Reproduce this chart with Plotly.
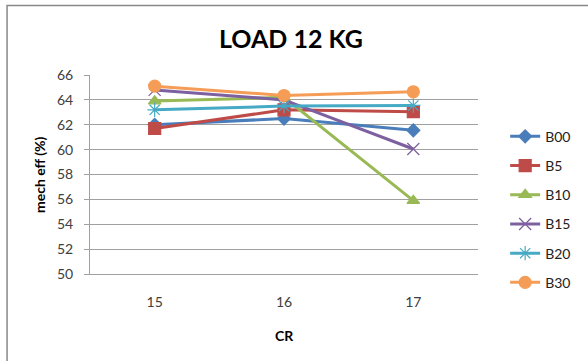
import plotly.graph_objects as go

categories = ["15", "16", "17"]
series_names = ["B00", "B5", "B10", "B15", "B20", "B30"]
b00 = [62.0, 62.5, 61.55]
b5 = [61.7, 63.2, 63.05]
b10 = [63.9, 64.2, 55.9]
b15 = [64.8, 64.0, 60.05]
b20 = [63.2, 63.5, 63.55]
b30 = [65.1, 64.35, 64.65]
values = [b00, b5, b10, b15, b20, b30]

colors = ["#4A7EBB", "#BE4B48", "#98B954", "#7D60A0", "#46AAC5", "#F59D56"]
symbols = ["diamond", "square", "triangle-up", "x-thin-open", "asterisk-open", "circle"]
sizes = [10, 12, 11, 12, 12, 12]
FONT = "Lato, Open Sans, sans-serif"

fig = go.Figure()
for i, name in enumerate(series_names):
    fig.add_trace(go.Scatter(
        x=categories, y=values[i], name=name, mode="lines+markers",
        legendgroup=name,
        line=dict(color=colors[i], width=3),
        marker=dict(symbol=symbols[i], size=sizes[i], color=colors[i],
                    line=dict(color=colors[i], width=1.2)),
    ))

fig.update_layout(
    width=588, height=361,
    margin=dict(l=90, r=98, t=75, b=87),
    paper_bgcolor="white", plot_bgcolor="white",
    font=dict(family=FONT, size=14, color="#404040"),
    showlegend=True,
    legend=dict(x=1.07, y=0.77, xanchor="left", yanchor="top",
                font=dict(family=FONT, size=14, color="#222222"),
                tracegroupgap=8, itemwidth=30, bgcolor="rgba(0,0,0,0)"),
    xaxis=dict(type="category", range=[-0.5, 2.5], showgrid=False,
               showline=True, linecolor="#A0A0A0", linewidth=1,
               ticks="", ticklabelstandoff=15, zeroline=False,
               tickfont=dict(family=FONT, size=14, color="#404040")),
    yaxis=dict(range=[50, 66], dtick=2, showgrid=True, gridcolor="#A0A0A0",
               gridwidth=1, showline=True, linecolor="#A0A0A0", linewidth=1,
               ticks="outside", ticklen=5, tickcolor="#A0A0A0",
               ticklabelstandoff=8, zeroline=False,
               tickfont=dict(family=FONT, size=14, color="#404040")),
    annotations=[
        dict(text="<b>LOAD 12 KG</b>", xref="paper", yref="paper",
             x=(297 - 90) / 400, y=1 + (75 - 38) / 199, showarrow=False,
             xanchor="center", yanchor="middle",
             font=dict(family=FONT, size=25, color="#000000")),
        dict(text="<b>mech eff (%)</b>", xref="paper", yref="paper",
             x=-(90 - 38) / 400, y=0.5, textangle=-90, showarrow=False,
             xanchor="center", yanchor="middle",
             font=dict(family=FONT, size=14, color="#000000")),
        dict(text="<b>CR</b>", xref="paper", yref="paper",
             x=0.5, y=-(335 - 274) / 199, showarrow=False,
             xanchor="center", yanchor="middle",
             font=dict(family=FONT, size=14, color="#000000")),
    ],
    shapes=[dict(type="rect", xref="paper", yref="paper",
                 x0=-(90 - 4.5) / 400, y0=-(400 - 274) / 199,
                 x1=1 + 200 / 400, y1=1 + (75 - 5.5) / 199,
                 line=dict(color="#888888", width=1.5), layer="below")],
)

fig.write_html("out.html")
